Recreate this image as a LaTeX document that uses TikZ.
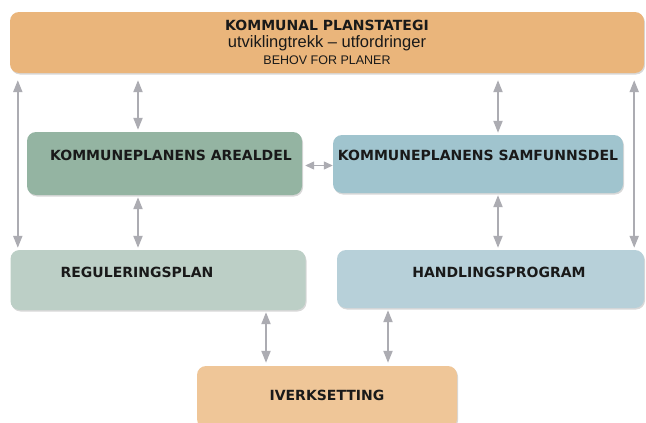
\documentclass[tikz,border=0pt]{standalone}
\usepackage{fontspec}
\setmainfont{DejaVu Sans}
\newfontfamily\plainfont{Liberation Sans}
\usepackage{xcolor}
\usetikzlibrary{arrows.meta, shadows}

\definecolor{strategy}{RGB}{234,181,123}
\definecolor{areal}{RGB}{148,180,162}
\definecolor{samfunn}{RGB}{160,196,206}
\definecolor{regulering}{RGB}{188,207,198}
\definecolor{handling}{RGB}{183,208,217}
\definecolor{iverk}{RGB}{239,198,152}
\definecolor{linkgray}{RGB}{172,172,178}

% move the text inside a box: x offset (doubled), lift, text
\newcommand{\boxtext}[3]{\raisebox{#2}[\height][\depth]{\hspace*{#1}#3}}

\begin{document}
\begin{tikzpicture}[x=1pt, y=-1pt, font=\fontsize{14}{16}\selectfont\bfseries]
\tikzstyle{box} = [rectangle, rounded corners=9pt, text centered, text=black!90,
    drop shadow={shadow xshift=1pt, shadow yshift=-1.5pt, opacity=0.25, fill=black!60}]
\tikzstyle{arrow} = [draw=linkgray, line width=2pt,
    {Triangle[width=9pt,length=12pt]}-{Triangle[width=9pt,length=12pt]},
    shorten <=2pt, shorten >=2pt]

\path[use as bounding box, fill=white] (0,0) rectangle (646,423);

\node (top) [box, fill=strategy, minimum width=634pt, minimum height=61pt, align=center] at (327,42.5)
    {KOMMUNAL PLANSTATEGI\\[1pt]
     {\plainfont\mdseries\fontsize{16.5}{17}\selectfont utviklingtrekk – utfordringer}\\[0.5pt]
     {\plainfont\mdseries\fontsize{12.5}{14}\selectfont BEHOV FOR PLANER}};

\node (areal) [box, fill=areal, minimum width=275pt, minimum height=63pt] at (164.5,163.5)
    {\boxtext{13pt}{8.5pt}{KOMMUNEPLANENS AREALDEL}};
\node (samf) [box, fill=samfunn, minimum width=290pt, minimum height=58pt] at (478,164)
    {\boxtext{0pt}{9pt}{KOMMUNEPLANENS SAMFUNNSDEL}};

\node (reg) [box, fill=regulering, minimum width=295pt, minimum height=60pt] at (158,280)
    {\boxtext{-42pt}{8pt}{REGULERINGSPLAN}};
\node (handl) [box, fill=handling, minimum width=307pt, minimum height=58pt] at (490.5,279)
    {\boxtext{17pt}{7pt}{HANDLINGSPROGRAM}};

\node (iverk) [box, fill=iverk, minimum width=260pt, minimum height=62pt] at (327,397)
    {\boxtext{0pt}{2pt}{IVERKSETTING}};

\draw [arrow, shorten >=7pt] ([xshift=8pt]top.south west |- reg.north) -- ([xshift=8pt]top.south west);
\draw [arrow, shorten >=7pt] ([xshift=-10pt]top.south east |- handl.north) -- ([xshift=-10pt]top.south east);
\draw [arrow, shorten >=7pt] ([xshift=-26.5pt]areal.north) -- ([xshift=-26.5pt]areal.north |- top.south);
\draw [arrow, shorten >=7pt] ([xshift=20pt]samf.north) -- ([xshift=20pt]samf.north |- top.south);
\draw [arrow] ([xshift=-26.5pt]areal.south) -- ([xshift=-26.5pt]areal.south |- reg.north);
\draw [arrow] ([xshift=20pt]samf.south) -- ([xshift=20pt]samf.south |- handl.north);
\draw [arrow, line width=1.2pt, shorten <=3pt, shorten >=0pt,
    {Triangle[width=8pt,length=9pt]}-{Triangle[width=8pt,length=9pt]}]
    ([yshift=-2pt]areal.east) -- ([yshift=-2pt]areal.east -| samf.west);
\draw [arrow, shorten <=3pt] ([xshift=-61pt]iverk.north) -- ([xshift=-61pt]iverk.north |- reg.south);
\draw [arrow, shorten <=3pt] ([xshift=61pt]iverk.north) -- ([xshift=61pt]iverk.north |- handl.south);

\end{tikzpicture}
\end{document}
